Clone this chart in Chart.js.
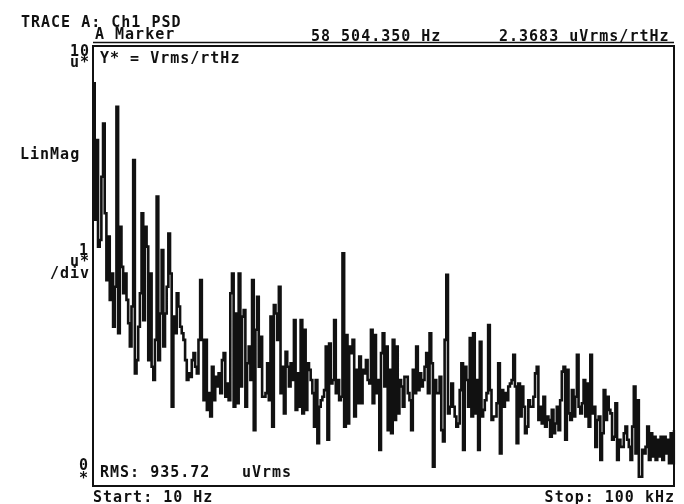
<!DOCTYPE html>
<html lang="en">
<head>
    <meta charset="UTF-8">
    <title>Ch1 PSD</title>
    <script src="https://cdn.jsdelivr.net/npm/chart.js"></script>
    <style>
        html, body { margin: 0; padding: 0; background: #fff; }
        #wrap { width: 684px; height: 504px; }
    </style>
</head>
<body>
    <div id="wrap"><canvas id="psdChart" width="684" height="504"></canvas></div>

    <script>
        // Trace values in uVrms/rtHz (linear, 0..10 u)
        const psdA = [
            9.15, 6.05, 7.86, 5.44, 5.59, 7.03, 8.24, 6.20, 4.68, 5.67, 4.23, 4.83, 3.62, 4.53, 8.62, 3.47,
            5.89, 4.98, 4.38, 4.83, 4.23, 3.70, 3.17, 4.08, 7.41, 2.56, 2.86, 3.62, 4.38, 6.20, 3.77, 5.89,
            5.44, 2.86, 4.83, 2.71, 2.41, 3.32, 6.58, 2.86, 3.92, 5.36, 3.17, 3.92, 4.53, 5.74, 4.83, 1.80,
            3.85, 3.47, 4.38, 4.08, 3.62, 3.47, 3.32, 2.86, 2.41, 2.56, 2.48, 2.86, 3.02, 2.71, 2.56, 3.32,
            4.68, 3.32, 1.95, 3.32, 1.73, 2.11, 1.58, 2.71, 1.95, 2.48, 2.26, 2.56, 2.11, 2.86, 3.02, 2.03,
            2.33, 1.95, 4.38, 4.83, 1.80, 3.92, 1.88, 4.83
        ];
        const psdB = [
            2.26, 3.85, 4.00, 1.80, 2.79, 3.17, 2.41, 4.68, 1.27, 3.55, 4.30, 2.71, 3.39, 2.03, 2.03, 2.11,
            2.79, 1.95, 3.85, 1.35, 4.11, 3.92, 3.32, 4.53, 2.11, 2.71, 1.65, 3.05, 2.71, 2.26, 2.79, 2.41,
            3.77, 1.73, 2.56, 1.80, 3.77, 1.65, 3.55, 1.73, 2.79, 2.64, 2.41, 2.11, 1.35, 2.41, 0.97, 1.80,
            1.95, 2.03, 2.18, 3.17, 1.05, 3.24, 2.33, 2.41, 3.77, 2.11, 2.41, 1.95, 2.03, 5.29, 1.35, 3.43,
            1.42, 3.17, 3.02, 3.32, 1.58, 2.64, 1.88, 2.94, 1.88, 2.64, 2.56, 2.86, 2.41, 2.33, 3.55, 1.88,
            3.43, 2.11, 2.41, 0.82, 3.02, 3.47, 2.26
        ];
        const psdC = [
            3.17, 1.27, 2.64, 1.20, 3.32, 1.50, 3.17, 1.65, 2.41, 2.26, 1.80, 2.48, 2.48, 2.11, 1.95, 1.27,
            2.64, 2.11, 3.17, 2.18, 2.56, 2.26, 2.41, 2.71, 3.02, 2.11, 3.47, 2.79, 0.44, 2.41, 2.11, 2.11,
            2.48, 1.27, 1.01, 3.32, 4.80, 1.65, 1.80, 2.33, 1.80, 1.58, 1.35, 1.42, 2.18, 2.79, 0.82, 2.71,
            2.41, 1.80, 3.36, 1.58, 3.47, 1.65, 2.41, 0.82, 3.28, 1.58, 1.73, 1.95, 2.11, 3.66, 2.18, 1.50,
            1.58, 1.58, 1.88, 2.79, 0.74, 2.18, 1.80, 2.11, 1.95, 2.26, 2.33, 2.41, 2.98, 2.26, 0.97, 2.33,
            1.58, 2.26, 1.80, 1.20, 1.35, 1.95, 1.80
        ];
        const psdD = [
            1.80, 2.03, 2.56, 2.71, 1.50, 1.80, 1.42, 2.03, 1.35, 1.58, 1.50, 1.12, 1.73, 1.20, 1.42, 1.80,
            1.27, 1.95, 2.60, 2.71, 1.05, 2.64, 1.65, 1.50, 2.18, 1.58, 2.03, 2.98, 1.80, 1.65, 1.88, 2.41,
            1.58, 2.33, 1.35, 2.98, 1.65, 1.80, 0.89, 1.50, 1.58, 0.59, 1.20, 2.18, 1.50, 2.03, 1.73, 1.65,
            1.05, 1.12, 1.88, 0.59, 1.05, 0.89, 0.89, 1.20, 1.35, 1.05, 0.89, 0.59, 1.35, 2.26, 0.74, 1.95,
            0.21, 0.21, 0.82, 0.74, 0.89, 1.35, 0.59, 1.20, 0.67, 1.12, 0.59, 1.05, 0.67, 1.12, 0.59, 1.12,
            0.74, 1.05, 0.52, 1.20, 0.52, 1.27
        ];
        const psd = [...psdA, ...psdB, ...psdC, ...psdD];

        const startHz = 10;
        const stopHz = 100000;
        const yMin = 0;
        const yMax = 10;

        // bin centre frequencies across the span
        const freqs = psd.map((_, i) => startHz + i * (stopHz - startHz) / (psd.length - 1));

        const FONT = 'bold 15px "DejaVu Sans Mono", "Liberation Mono", monospace';
        const INK = '#111';

        function txt(ctx, s, x, y, align) {
            ctx.textAlign = align || 'left';
            ctx.fillText(s, x, y);
        }

        // screen annotations + frame, like the analyzer dump
        const screenText = {
            id: 'screenText',
            afterDraw(chart) {
                const ctx = chart.ctx;
                const a = chart.chartArea;
                ctx.save();
                ctx.fillStyle = INK;
                ctx.strokeStyle = INK;
                ctx.font = FONT;
                ctx.letterSpacing = '1px';
                ctx.textBaseline = 'alphabetic';

                txt(ctx, 'TRACE A: Ch1 PSD', 21, 27);
                txt(ctx, 'A Marker', 95, 39);
                txt(ctx, '58 504.350 Hz', 311, 41);
                txt(ctx, '2.3683 uVrms/rtHz', 499, 41);

                // y labels, left of the frame
                txt(ctx, '10', 90, 56, 'right');
                txt(ctx, 'u*', 90, 67, 'right');
                txt(ctx, 'LinMag', 20, 159);
                txt(ctx, '1', 89, 255, 'right');
                txt(ctx, 'u*', 90, 266, 'right');
                txt(ctx, '/div', 90, 278, 'right');
                txt(ctx, '0', 89, 470, 'right');
                txt(ctx, '*', 89, 483, 'right');

                // inside the frame
                txt(ctx, 'Y* = Vrms/rtHz', 100, 63);
                txt(ctx, 'RMS: 935.72', 100, 477);
                txt(ctx, 'uVrms', 242, 477);

                // span
                txt(ctx, 'Start: 10 Hz', 93, 502);
                txt(ctx, 'Stop: 100 kHz', 675, 502, 'right');

                // underline of the marker readout
                ctx.lineWidth = 1.5;
                ctx.beginPath();
                ctx.moveTo(93, 42.5);
                ctx.lineTo(a.right, 42.5);
                ctx.stroke();

                // frame
                ctx.lineWidth = 2;
                ctx.strokeRect(a.left, a.top, a.right - a.left, a.bottom - a.top);
                ctx.restore();
            }
        };

        new Chart(document.getElementById('psdChart'), {
            type: 'line',
            data: {
                labels: freqs,
                datasets: [{
                    label: 'Ch1 PSD',
                    data: psd,
                    borderColor: INK,
                    borderWidth: 2.6,
                    stepped: true,
                    pointRadius: 0,
                    fill: false
                }]
            },
            options: {
                responsive: false,
                animation: false,
                layout: {
                    padding: { left: 93, right: 10, top: 46, bottom: 18 }
                },
                plugins: {
                    legend: { display: false },
                    tooltip: { enabled: false }
                },
                scales: {
                    x: { display: false, offset: false },
                    y: { display: false, min: yMin, max: yMax }
                }
            },
            plugins: [screenText]
        });
    </script>
</body>
</html>
